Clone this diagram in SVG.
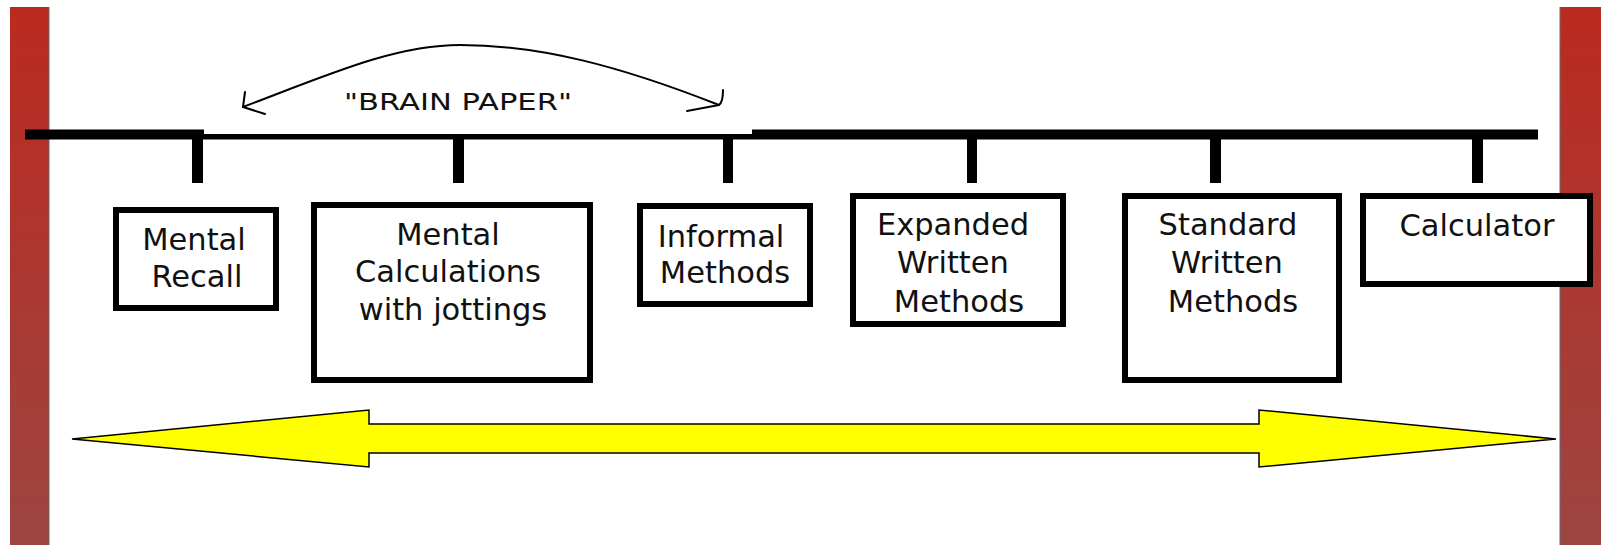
<svg xmlns="http://www.w3.org/2000/svg" width="1601" height="545" viewBox="0 0 1601 545">
  <style>
    .box { fill: #ffffff; stroke: #000000; stroke-width: 6; }
    .lbl { font-family: "DejaVu Sans", "Liberation Sans", sans-serif; font-size: 30.5px; fill: #111111; text-anchor: middle; }
    .tick { fill: #000000; }
    .arc { fill: none; stroke: #000000; stroke-width: 2; stroke-linecap: round; stroke-linejoin: round; }
    .bp { font-family: "DejaVu Sans", "Liberation Sans", sans-serif; font-size: 22.5px; fill: #111111; }
  </style>
  <defs>
    <linearGradient id="barGrad" x1="0" y1="0" x2="0" y2="1">
      <stop offset="0" stop-color="#bb2a1f"/>
      <stop offset="1" stop-color="#9d4542"/>
    </linearGradient>
  </defs>
  <rect width="1601" height="545" fill="#ffffff"/>

  <g id="side-bars">
    <rect x="10" y="7" width="39" height="538" fill="url(#barGrad)"/>
    <line x1="49" y1="7" x2="49" y2="545" stroke="#6a6a6a" stroke-width="1"/>
    <rect x="1560" y="7" width="41" height="538" fill="url(#barGrad)"/>
    <line x1="1560" y1="7" x2="1560" y2="545" stroke="#6a6a6a" stroke-width="1"/>
  </g>

  <g id="connectors">
    <rect x="25" y="129.5" width="179" height="10" fill="#000"/>
    <rect x="204" y="134" width="548" height="5.5" fill="#000"/>
    <rect x="752" y="129.5" width="786" height="10" fill="#000"/>
    <rect class="tick" x="192" y="139" width="11" height="44"/>
    <rect class="tick" x="453" y="139" width="11" height="44"/>
    <rect class="tick" x="723" y="139" width="10" height="44"/>
    <rect class="tick" x="967" y="139" width="10" height="44"/>
    <rect class="tick" x="1210" y="139" width="11" height="44"/>
    <rect class="tick" x="1472" y="139" width="11" height="44"/>
  </g>

  <g id="brain-paper">
    <path class="arc" d="M243,107 C 330,74 395,45 460,45 C 540,45 620,66 719,105"/>
    <path class="arc" d="M245,92 L243,107 L265,114"/>
    <path class="arc" d="M723,90 C 723,98 722,103 719,105 L687,111"/>
    <text class="bp" x="344" y="110" textLength="228" lengthAdjust="spacingAndGlyphs">"BRAIN PAPER"</text>
  </g>

  <g id="node-mental-recall">
    <rect class="box" x="116" y="210" width="160" height="98"/>
    <text class="lbl" x="194" y="250">Mental</text>
    <text class="lbl" x="197" y="287">Recall</text>
  </g>

  <g id="node-mental-calculations">
    <rect class="box" x="314" y="205" width="276" height="175"/>
    <text class="lbl" x="448" y="245">Mental</text>
    <text class="lbl" x="448" y="282">Calculations</text>
    <text class="lbl" x="453" y="320">with jottings</text>
  </g>

  <g id="node-informal-methods">
    <rect class="box" x="640" y="206" width="170" height="98"/>
    <text class="lbl" x="721" y="247">Informal</text>
    <text class="lbl" x="725" y="283">Methods</text>
  </g>

  <g id="node-expanded-written">
    <rect class="box" x="853" y="196" width="210" height="128"/>
    <text class="lbl" x="953" y="235">Expanded</text>
    <text class="lbl" x="953" y="273">Written</text>
    <text class="lbl" x="959" y="312">Methods</text>
  </g>

  <g id="node-standard-written">
    <rect class="box" x="1125" y="196" width="214" height="184"/>
    <text class="lbl" x="1228" y="235">Standard</text>
    <text class="lbl" x="1227" y="273">Written</text>
    <text class="lbl" x="1233" y="312">Methods</text>
  </g>

  <g id="node-calculator">
    <rect class="box" x="1363" y="196" width="227" height="88"/>
    <text class="lbl" x="1477" y="236">Calculator</text>
  </g>

  <g id="double-arrow">
    <polygon points="72,439 369,410 369,424 1259,424 1259,410 1556,439 1259,467 1259,453 369,453 369,467" fill="#ffff00" stroke="#000000" stroke-width="1.5" stroke-linejoin="miter"/>
  </g>
</svg>
